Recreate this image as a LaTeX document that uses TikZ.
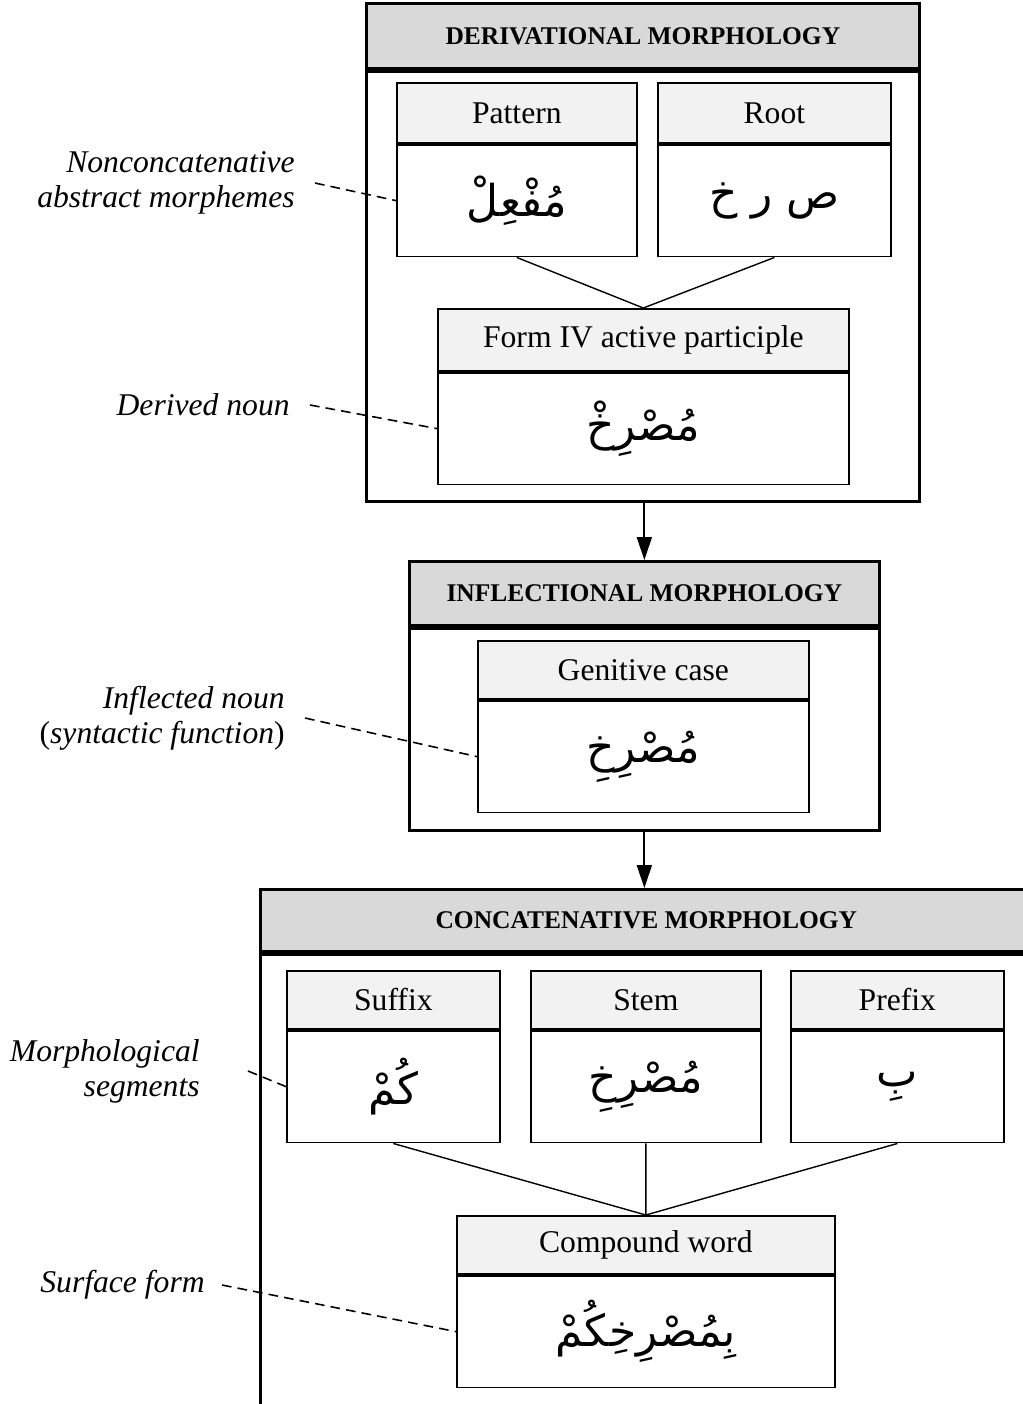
\documentclass[tikz,border=0pt]{standalone}
\usepackage{fontspec}
\setmainfont{Liberation Serif}
\newfontfamily\arabicfont[Script=Arabic]{DejaVu Sans}
\TeXXeTstate=1
\usetikzlibrary{arrows.meta,positioning}
\definecolor{hdrgray}{RGB}{217,217,217}
\definecolor{boxgray}{RGB}{242,242,242}
\newcommand{\artext}[1]{{\arabicfont\beginR #1\endR}}

\begin{document}
\begin{tikzpicture}[x=0.02cm, y=-0.02cm, >={Triangle[length=13pt,width=8.5pt]},
  outerhead/.style={draw, line width=1.6pt, fill=hdrgray, inner sep=0pt,
    font=\fontsize{14.5}{17}\selectfont\bfseries},
  outerbody/.style={draw, line width=1.6pt, inner sep=0pt},
  boxhead/.style={draw, line width=1pt, fill=boxgray, inner sep=0pt,
    minimum height=1.16cm, font=\fontsize{18}{21}\selectfont},
  boxbody/.style={draw, line width=1pt, inner sep=0pt, minimum height=2.24cm,
    font=\fontsize{25}{30}\selectfont},
  link/.style={line width=0.8pt},
  leader/.style={line width=0.9pt, dash pattern=on 5.5pt off 3.5pt},
  note/.style={anchor=east, align=right, inner sep=0pt,
    font=\fontsize{18}{20}\selectfont\itshape}]
  \useasboundingbox (0,0) rectangle (1023,1404);
  \clip (0,0) rectangle (1023,1404);

  % derivational morphology
  \node[outerhead, anchor=north west, minimum width=11.06cm, minimum height=1.3cm]
    (deriv-h) at (365,2) {DERIVATIONAL MORPHOLOGY};
  \node[outerbody, below=0pt of deriv-h, minimum width=11.06cm, minimum height=8.6cm] (deriv) {};

  \node[boxhead, anchor=north west, minimum width=4.8cm, minimum height=1.2cm]
    (pattern-h) at (396,82) {Pattern};
  \node[boxbody, below=0pt of pattern-h, minimum width=4.8cm] (pattern) {\artext{مُفْعِلْ}};
  \node[boxhead, anchor=north west, minimum width=4.66cm, minimum height=1.2cm]
    (root-h) at (657,82) {Root};
  \node[boxbody, below=0pt of root-h, minimum width=4.66cm] (root) {\artext{ص ر خ}};

  \node[boxhead, anchor=north west, minimum width=8.22cm, minimum height=1.24cm]
    (formiv-h) at (437,308) {Form IV active participle};
  \node[boxbody, below=0pt of formiv-h, minimum width=8.22cm] (formiv) {\artext{مُصْرِخْ}};

  \draw[link] (pattern.south) -- (formiv-h.north) -- (root.south);

  % inflectional morphology
  \node[outerhead, anchor=north west, minimum width=9.4cm, minimum height=1.28cm]
    (infl-h) at (408,560) {INFLECTIONAL MORPHOLOGY};
  \node[outerbody, below=0pt of infl-h, minimum width=9.4cm, minimum height=4.04cm] (infl) {};

  \node[boxhead, anchor=north west, minimum width=6.62cm] (genitive-h) at (477,640) {Genitive case};
  \node[boxbody, below=0pt of genitive-h, minimum width=6.62cm] (genitive) {\artext{مُصْرِخِ}};

  % concatenative morphology
  \node[outerhead, anchor=north west, minimum width=15.44cm, minimum height=1.24cm]
    (concat-h) at (259,888) {CONCATENATIVE MORPHOLOGY};
  \node[outerbody, below=0pt of concat-h, minimum width=15.44cm, minimum height=11.2cm] (concat) {};

  \node[boxhead, anchor=north west, minimum width=4.26cm] (suffix-h) at (286,970) {Suffix};
  \node[boxbody, below=0pt of suffix-h, minimum width=4.26cm] (suffix) {\artext{كُمْ}};
  \node[boxhead, anchor=north west, minimum width=4.6cm] (stem-h) at (530,970) {Stem};
  \node[boxbody, below=0pt of stem-h, minimum width=4.6cm] (stem) {\artext{مُصْرِخِ}};
  \node[boxhead, anchor=north west, minimum width=4.26cm] (prefix-h) at (790,970) {Prefix};
  \node[boxbody, below=0pt of prefix-h, minimum width=4.26cm] (prefix) {\artext{بِ}};

  \node[boxhead, anchor=north west, minimum width=7.56cm] (compound-h) at (456,1215) {Compound word};
  \node[boxbody, below=0pt of compound-h, minimum width=7.56cm] (compound) {\artext{بِمُصْرِخِكُمْ}};

  \draw[link] (suffix.south) -- (compound-h.north) -- (prefix.south);
  \draw[link] (stem.south) -- (compound-h.north);

  % arrows between levels
  \draw[->, line width=1pt] (infl-h.north |- deriv.south) -- (infl-h.north);
  \draw[->, line width=1pt] (infl.south) -- (concat-h.north -| infl.south);

  % side notes
  \node[note] (lbl-abstract) at (295,183) {Nonconcatenative\\abstract morphemes};
  \node[note] (lbl-derived) at (290,405) {Derived noun};
  \node[note] (lbl-inflected) at (285,718) {Inflected noun\\\textup{(}syntactic function\textup{)}};
  \node[note] (lbl-segments) at (200,1071) {Morphological\\segments};
  \node[note] (lbl-surface) at (205,1285) {Surface form};

  \draw[leader] ([xshift=0.4cm]lbl-abstract.east) -- (pattern.west);
  \draw[leader] ([xshift=0.4cm]lbl-derived.east) -- (formiv.west);
  \draw[leader] ([xshift=0.4cm]lbl-inflected.east) -- (genitive.west);
  \draw[leader] ([xshift=0.96cm]lbl-segments.east) -- (suffix.west);
  \draw[leader] ([xshift=0.34cm]lbl-surface.east) -- (compound.west);
\end{tikzpicture}
\end{document}
